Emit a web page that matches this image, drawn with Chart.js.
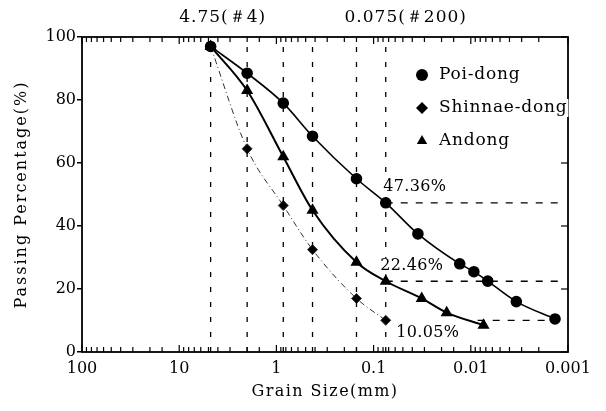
<!DOCTYPE html>
<html>
<head>
<meta charset="utf-8">
<script src="https://cdn.jsdelivr.net/npm/chart.js@4.4.0/dist/chart.umd.min.js"></script>
<style>
  html, body { margin: 0; padding: 0; background: #fff; }
</style>
</head>
<body>
<canvas id="gsd" width="606" height="411"></canvas>
<script>
// sieve sizes (mm) shown as dashed verticals
const sieveSizes = [4.75, 2, 0.85, 0.425, 0.15, 0.075];

// grain size (mm) / passing (%) per site
const poiSize = [4.75, 2, 0.85, 0.425, 0.15, 0.075, 0.035, 0.013, 0.0093, 0.0067, 0.0034, 0.00136];
const poiPass = [97, 88.5, 79, 68.5, 55, 47.36, 37.5, 28, 25.5, 22.5, 16, 10.5];

const shinSize = [4.75, 2, 0.85, 0.425, 0.15, 0.075];
const shinPass = [97, 64.5, 46.5, 32.5, 17, 10.05];

const andSize = [4.75, 2, 0.85, 0.425, 0.15, 0.075, 0.032, 0.0177, 0.0074];
const andPass = [97, 83, 62, 45, 28.5, 22.46, 17, 12.5, 8.5];

// fines content at #200 sieve
const finesPass = [47.36, 22.46, 10.05];
const finesLabels = ["47.36%", "22.46%", "10.05%"];
const finesStart = [0.075, 0.075, 0.0085];
const finesEnd = 0.0012;

const seriesNames = ["Poi-dong", "Shinnae-dong", "Andong"];
const sieveLabels = ["4.75(＃4)", "0.075(＃200)"];

const serif = "'DejaVu Serif', 'Liberation Serif', serif";

const pts = (xs, ys) => xs.map((x, i) => ({ x: x, y: ys[i] }));

const datasets = [];
sieveSizes.forEach(s => {
  datasets.push({
    data: [{ x: s, y: 0 }, { x: s, y: 100 }],
    borderColor: "#000", borderWidth: 1.3, borderDash: [5, 10],
    pointRadius: 0, tension: 0
  });
});
finesPass.forEach((p, i) => {
  datasets.push({
    data: [{ x: finesStart[i], y: p }, { x: finesEnd, y: p }],
    borderColor: "#000", borderWidth: 1.3, borderDash: [7, 8],
    pointRadius: 0, tension: 0
  });
});
datasets.push({
  label: seriesNames[0], data: pts(poiSize, poiPass),
  borderColor: "#000", backgroundColor: "#000", borderWidth: 1.6,
  pointStyle: "circle", pointRadius: 5, cubicInterpolationMode: "monotone"
});
datasets.push({
  label: seriesNames[1], data: pts(shinSize, shinPass),
  borderColor: "#333", backgroundColor: "#000", borderWidth: 1, borderDash: [6, 3, 1, 3],
  pointStyle: "rectRot", pointRadius: 5, cubicInterpolationMode: "monotone"
});
datasets.push({
  label: seriesNames[2], data: pts(andSize, andPass),
  borderColor: "#000", backgroundColor: "#000", borderWidth: 2,
  pointStyle: "triangle", pointRadius: 5, cubicInterpolationMode: "monotone"
});

function isDecade(v) {
  const l = Math.log10(v);
  return Math.abs(l - Math.round(l)) < 1e-6;
}

const decor = {
  id: "decor",
  afterDraw(chart) {
    const ctx = chart.ctx;
    const a = chart.chartArea;
    const xs = chart.scales.x, ys = chart.scales.y;
    ctx.save();
    ctx.strokeStyle = "#000";
    ctx.lineWidth = 1.8;
    ctx.strokeRect(a.left, a.top, a.right - a.left, a.bottom - a.top);

    // inward log ticks, top and bottom
    ctx.lineWidth = 1.2;
    xs.ticks.forEach(t => {
      const px = xs.getPixelForValue(t.value);
      const len = isDecade(t.value) ? 7 : 5;
      ctx.beginPath();
      ctx.moveTo(px, a.bottom); ctx.lineTo(px, a.bottom - len);
      ctx.moveTo(px, a.top); ctx.lineTo(px, a.top + len);
      ctx.stroke();
    });
    // right side ticks
    ys.ticks.forEach(t => {
      const py = ys.getPixelForValue(t.value);
      ctx.beginPath();
      ctx.moveTo(a.right, py); ctx.lineTo(a.right - 7, py);
      ctx.stroke();
    });

    ctx.fillStyle = "#000";
    ctx.textBaseline = "middle";

    // sieve labels above plot
    ctx.font = "17px " + serif;
    ctx.letterSpacing = "1px";
    ctx.textAlign = "center";
    ctx.fillText(sieveLabels[0], xs.getPixelForValue(sieveSizes[0]) + 12, 18);
    ctx.fillText(sieveLabels[1], xs.getPixelForValue(sieveSizes[5]) + 20, 18);

    // fines labels
    ctx.font = "16px " + serif;
    ctx.letterSpacing = "0.3px";
    const offs = [[29, -16], [26, -15], [42, 13]];
    finesPass.forEach((p, i) => {
      const cx = xs.getPixelForValue(0.075) + offs[i][0];
      const cy = ys.getPixelForValue(p) + offs[i][1];
      const w = ctx.measureText(finesLabels[i]).width;
      ctx.fillStyle = "#fff";
      ctx.fillRect(cx - w / 2 - 1, cy - 8, w + 2, 16);
      ctx.fillStyle = "#000";
      ctx.fillText(finesLabels[i], cx, cy);
    });

    // legend
    ctx.font = "17px " + serif;
    ctx.letterSpacing = "0.8px";
    ctx.textAlign = "left";
    const styles = ["circle", "rectRot", "triangle"];
    seriesNames.forEach((n, i) => {
      const ly = 75 + i * 33;
      const w = ctx.measureText(n).width;
      ctx.fillStyle = "#fff";
      ctx.fillRect(438, ly - 9, w + 2, 18);
      ctx.fillStyle = "#000";
      Chart.helpers.drawPoint(ctx, { pointStyle: styles[i], radius: 6, borderWidth: 0 }, 422, ly);
      ctx.fillText(n, 439, ly);
    });

    // axis titles
    ctx.font = "16px " + serif;
    ctx.letterSpacing = "1.4px";
    ctx.textAlign = "center";
    ctx.fillText("Grain Size(mm)", (a.left + a.right) / 2, 392);
    ctx.letterSpacing = "2px";
    ctx.translate(22, (a.top + a.bottom) / 2);
    ctx.rotate(-Math.PI / 2);
    ctx.fillText("Passing Percentage(%)", 0, 0);
    ctx.restore();
  }
};

new Chart(document.getElementById("gsd").getContext("2d"), {
  type: "line",
  data: { datasets: datasets },
  plugins: [decor],
  options: {
    responsive: false,
    animation: false,
    devicePixelRatio: 1,
    layout: { padding: { top: 37, right: 38, left: 0, bottom: 0 } },
    plugins: { legend: { display: false }, tooltip: { enabled: false } },
    scales: {
      x: {
        type: "logarithmic", reverse: true, min: 0.001, max: 100,
        afterFit(s) { s.height = 59; },
        grid: { drawOnChartArea: false, drawTicks: false },
        border: { display: false },
        ticks: {
          autoSkip: false, maxRotation: 0, padding: 7, color: "#000",
          font: { family: serif, size: 16 },
          callback: v => isDecade(v) ? String(Number(v.toPrecision(3))) : ""
        }
      },
      y: {
        min: 0, max: 100,
        afterFit(s) { s.width = 82; },
        grid: { drawOnChartArea: false, tickLength: 5, color: "#000", lineWidth: 1.5 },
        border: { display: false },
        ticks: { stepSize: 20, padding: 1, color: "#000", font: { family: serif, size: 16 } }
      }
    }
  }
});
</script>
</body>
</html>
